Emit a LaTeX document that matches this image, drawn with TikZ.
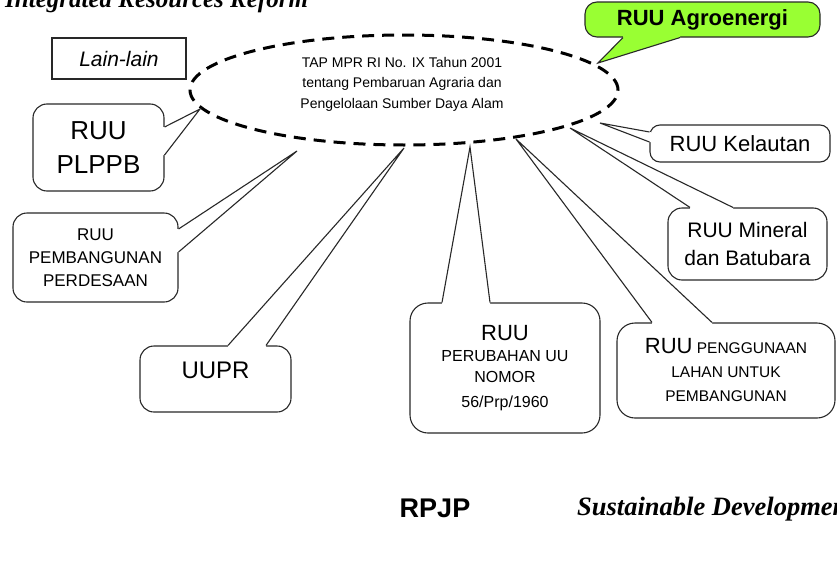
\documentclass[tikz,border=0pt]{standalone}
\usepackage{fontspec}
\setmainfont{Liberation Sans}
\newfontfamily\titleserif{Liberation Serif}
\usetikzlibrary{calc,shapes.geometric}
\definecolor{agrogreen}{RGB}{153,255,51}
\definecolor{edge}{RGB}{40,40,40}

% tail of a speech bubble: base point, tip, base point, inward shift, fill
\newcommand\calloutTail[5]{%
  \fill[#5] ($(#1)+#4$) -- (#1) -- (#2) -- (#3) -- ($(#3)+#4$) -- cycle;
  \draw[boxline] (#1) -- (#2) -- (#3);}

\begin{document}
\begin{tikzpicture}[x=1pt,y=-1pt,
  boxline/.style={draw=edge,line width=1.1pt,line join=miter},
  bubble/.style={boxline,rounded corners=14pt,fill=white,inner sep=0pt,align=center},
  plainbox/.style={boxline,fill=white,inner sep=0pt},
  tapring/.style={ellipse,draw=black,line width=3pt,dash pattern=on 12pt off 8pt,inner sep=0pt}]
\clip (0,0) rectangle (837,562);
\fill[white] (0,0) rectangle (837,562);

% headings
\node[anchor=base west,inner sep=0pt] (title) at (5,8)
  {\titleserif\bfseries\itshape\fontsize{25}{30}\selectfont Integrated Resources Reform};
\node[anchor=base west,inner sep=0pt] (sust) at (577,515)
  {\titleserif\bfseries\itshape\fontsize{26.5}{30}\selectfont Sustainable Development};
\node[inner sep=0pt] (rpjp) at (435,508) {\bfseries\fontsize{27}{30}\selectfont RPJP};

% central decree
\node[tapring,minimum width=428pt,minimum height=110pt] (tap) at (404,90) {};
\node[align=center,inner sep=0pt,font=\fontsize{14}{20.5}\selectfont] (taptext) at (402,84)
  {TAP MPR RI No. IX Tahun 2001\\tentang Pembaruan Agraria dan\\Pengelolaan Sumber Daya Alam};

% boxes
\node[plainbox,minimum width=134pt,minimum height=41pt] (lain) at (119,58.5)
  {\fontsize{21}{25}\selectfont\itshape Lain-lain};
\node[bubble,fill=agrogreen,rounded corners=12pt,minimum width=235pt,minimum height=35pt] (agro) at (702.5,19.5)
  {\fontsize{22}{25}\selectfont\bfseries RUU Agroenergi};
\node[bubble,minimum width=131pt,minimum height=87pt,font=\fontsize{26}{34}\selectfont] (plppb) at (98.5,147.5)
  {RUU\\PLPPB};
\node[bubble,minimum width=165pt,minimum height=89pt,font=\fontsize{17}{23}\selectfont] (desa) at (95.5,257.5)
  {RUU\\PEMBANGUNAN\\PERDESAAN};
\node[bubble,minimum width=151pt,minimum height=66pt,font=\fontsize{24}{28}\selectfont,text height=17pt,text depth=18pt] (uupr) at (215.5,379)
  {UUPR};
\node[bubble,rounded corners=18pt,minimum width=190pt,minimum height=130pt,font=\fontsize{16}{21}\selectfont] (perub) at (505,368)
  {{\fontsize{22}{22}\selectfont RUU}\\PERUBAHAN UU\\NOMOR\\[4pt]56/Prp/1960};
\node[bubble,rounded corners=18pt,minimum width=218pt,minimum height=95pt,font=\fontsize{15.5}{24}\selectfont] (pengg) at (726,370.5)
  {{\fontsize{22}{22}\selectfont RUU} PENGGUNAAN\\LAHAN UNTUK\\PEMBANGUNAN};
\node[bubble,minimum width=159pt,minimum height=72pt,font=\fontsize{21}{26}\selectfont] (mineral) at (747.5,244)
  {RUU Mineral\\[2pt]dan Batubara};
\node[bubble,rounded corners=10pt,minimum width=180pt,minimum height=37pt,font=\fontsize{22}{26}\selectfont] (kelautan) at (740,143.5)
  {RUU Kelautan};

% tail tips on the ring
\coordinate (agro-tip) at (598,63);
\coordinate (plppb-tip) at (200,109);
\coordinate (desa-tip) at (297,151);
\coordinate (uupr-tip) at (404,148);
\coordinate (perub-tip) at (470,147);
\coordinate (pengg-tip) at (516,139);
\coordinate (mineral-tip) at (570,128);
\coordinate (kelautan-tip) at (600,123);

% tail bases on the box borders
\coordinate (agro-a) at ($(agro.south)+(-79.5,0)$);
\coordinate (agro-b) at ($(agro.south)+(-22.5,0)$);
\coordinate (plppb-a) at ($(plppb.east)+(0,-20.5)$);
\coordinate (plppb-b) at ($(plppb.east)+(0,7.5)$);
\coordinate (desa-a) at ($(desa.east)+(0,-28.5)$);
\coordinate (desa-b) at ($(desa.east)+(0,-5.5)$);
\coordinate (uupr-a) at ($(uupr.north)+(12.5,0)$);
\coordinate (uupr-b) at ($(uupr.north)+(50.5,0)$);
\coordinate (perub-a) at ($(perub.north)+(-63,0)$);
\coordinate (perub-b) at ($(perub.north)+(-15,0)$);
\coordinate (pengg-a) at ($(pengg.north)+(-74,0)$);
\coordinate (pengg-b) at ($(pengg.north)+(-14,0)$);
\coordinate (mineral-a) at ($(mineral.north)+(-57.5,0)$);
\coordinate (mineral-b) at ($(mineral.north)+(-14.5,0)$);
\coordinate (kelautan-a) at ($(kelautan.west)+(0,-11.5)$);
\coordinate (kelautan-b) at ($(kelautan.west)+(0,-1.5)$);

% tails
\calloutTail{agro-a}{agro-tip}{agro-b}{(0,-2)}{agrogreen}
\calloutTail{plppb-a}{plppb-tip}{plppb-b}{(-2,0)}{white}
\calloutTail{desa-a}{desa-tip}{desa-b}{(-2,0)}{white}
\calloutTail{uupr-a}{uupr-tip}{uupr-b}{(0,2)}{white}
\calloutTail{perub-a}{perub-tip}{perub-b}{(0,2)}{white}
\calloutTail{pengg-a}{pengg-tip}{pengg-b}{(0,2)}{white}
\calloutTail{mineral-a}{mineral-tip}{mineral-b}{(0,2)}{white}
\calloutTail{kelautan-a}{kelautan-tip}{kelautan-b}{(2,0)}{white}
\end{tikzpicture}
\end{document}
